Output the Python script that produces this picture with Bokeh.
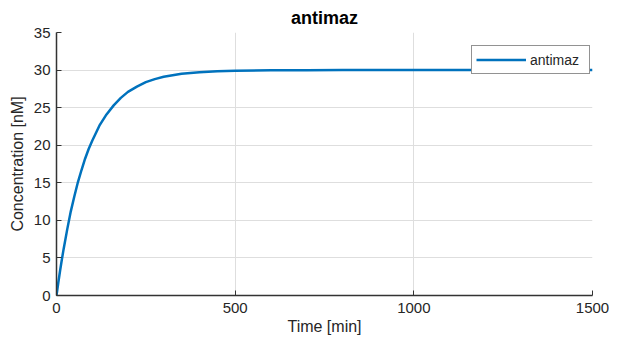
from bokeh.plotting import figure
from bokeh.models import Range1d, FixedTicker, Legend, LegendItem
from bokeh.embed import file_html
from bokeh.resources import INLINE

# Data
time_min = [0, 5, 10, 15, 20, 30, 40, 50, 60, 70, 80, 90, 100, 120, 140, 160, 180,
            200, 225, 250, 275, 300, 350, 400, 450, 500, 600, 700, 800, 1000, 1200, 1500]
antimaz = [0.0, 1.7, 3.3, 4.8, 6.2, 8.8, 11.2, 13.2, 15.1, 16.7, 18.2, 19.5, 20.6,
           22.6, 24.1, 25.3, 26.3, 27.1, 27.8, 28.4, 28.8, 29.1, 29.5, 29.7, 29.85,
           29.9, 29.97, 29.99, 30.0, 30.0, 30.0, 30.0]
x_ticks = [0, 500, 1000, 1500]
y_ticks = [0, 5, 10, 15, 20, 25, 30, 35]

FONT = "Liberation Sans"
DARK = "#262626"

p = figure(width=609, height=334, output_backend="svg", toolbar_location=None,
           x_range=Range1d(0, 1500), y_range=Range1d(0, 35),
           title="antimaz", frame_width=536, frame_height=263,
           min_border_left=56, min_border_right=17,
           min_border_top=31, min_border_bottom=40)

p.title.align = "center"
p.title.text_font = FONT
p.title.text_font_size = "18px"
p.title.text_font_style = "bold"
p.title.text_color = "#000000"
p.title.offset = 0

p.outline_line_color = None
p.background_fill_color = "white"
p.border_fill_color = "white"

for ax, ticks in ((p.xaxis, x_ticks), (p.yaxis, y_ticks)):
    ax.ticker = FixedTicker(ticks=ticks)
    ax.axis_line_color = "#333333"
    ax.axis_line_width = 1.5
    ax.major_tick_line_color = "#333333"
    ax.major_tick_in = 5
    ax.major_tick_out = 0
    ax.minor_tick_line_color = None
    ax.major_label_text_font = FONT
    ax.major_label_text_font_size = "15px"
    ax.major_label_text_color = DARK
    ax.axis_label_text_font = FONT
    ax.axis_label_text_font_size = "16px"
    ax.axis_label_text_font_style = "normal"
    ax.axis_label_text_color = DARK

p.xaxis.axis_label = "Time [min]"
p.yaxis.axis_label = "Concentration [nM]"
p.xaxis.major_label_standoff = 7
p.yaxis.major_label_standoff = 6
p.xaxis.axis_label_standoff = 2
p.yaxis.axis_label_standoff = 5

p.xgrid.ticker = FixedTicker(ticks=x_ticks)
p.ygrid.ticker = FixedTicker(ticks=y_ticks)
p.grid.grid_line_color = "#dedede"
p.grid.grid_line_width = 1

r = p.line(time_min, antimaz, line_color="#0072BD", line_width=2.5)

legend = Legend(items=[LegendItem(label="antimaz", renderers=[r])],
                location=(415, 221))
legend.border_line_color = DARK
legend.border_line_width = 1
legend.background_fill_alpha = 1
legend.label_text_font = FONT
legend.label_text_font_size = "14px"
legend.label_text_color = DARK
legend.glyph_width = 50
legend.glyph_height = 19
legend.label_height = 19
legend.label_width = 55
legend.label_standoff = 4
legend.padding = 4
legend.margin = 0
legend.spacing = 0
p.add_layout(legend, "center")

open("out.html", "w").write(file_html(p, INLINE))
